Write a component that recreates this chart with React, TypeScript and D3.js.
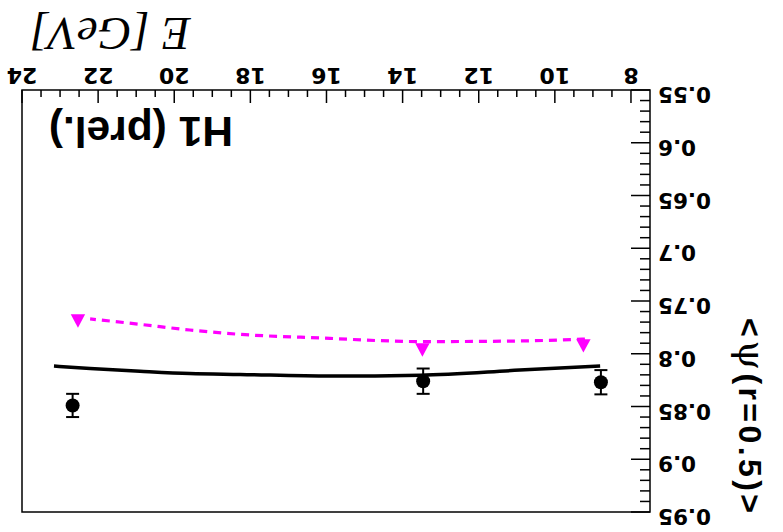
import React from "react";
import * as d3 from "d3";

// ---- data ----
const E_CIRCLE = [22.67, 13.46, 8.79];
const PSI_CIRCLE = [0.849, 0.826, 0.827];
const ERR_CIRCLE = [0.011, 0.012, 0.0115];

const E_TRI = [22.53, 13.48, 9.25];
const PSI_TRI = [0.769, 0.7965, 0.7925];

const E_SOLID = [8.81, 10.92, 13.54, 15.91, 18.27, 19.59, 20.9, 22.21, 23.16];
const PSI_SOLID = [0.8115, 0.8155, 0.8203, 0.8212, 0.8196, 0.8187, 0.8165, 0.8139, 0.8117];

const E_DASH = [9.21, 10.92, 13.54, 14.59, 15.91, 18.27, 19.59, 20.9, 22.21];
const PSI_DASH = [0.786, 0.7879, 0.7885, 0.7876, 0.7854, 0.7816, 0.7775, 0.7721, 0.767];

const X_TICKS = [8, 10, 12, 14, 16, 18, 20, 22, 24];
const Y_TICKS = [0.55, 0.6, 0.65, 0.7, 0.75, 0.8, 0.85, 0.9, 0.95];
const Y_TICK_LABELS = ["0.55", "0.6", "0.65", "0.7", "0.75", "0.8", "0.85", "0.9", "0.95"];

const X_DOMAIN = [7.5, 24];
const Y_DOMAIN = [0.55, 0.95];

export default function App() {
  const W = 783;
  const H = 532;
  const left = 133, right = 761, top = 20, bottom = 442;

  const x = d3.scaleLinear().domain(X_DOMAIN).range([left, right]);
  const y = d3.scaleLinear().domain(Y_DOMAIN).range([bottom, top]);

  const xMinor = d3.range(8, 24.001, 0.5).filter((v) => Math.abs(v / 2 - Math.round(v / 2)) > 1e-6);
  const yMinor = d3.range(0.55, 0.9501, 0.01).filter((v) => Math.abs(v / 0.05 - Math.round(v / 0.05)) > 1e-4);

  const solidPts: [number, number][] = E_SOLID.map((e, i) => [x(e), y(PSI_SOLID[i])]);
  const dashPts: [number, number][] = E_DASH.map((e, i) => [x(e), y(PSI_DASH[i])]);
  const lineGen = d3.line().curve(d3.curveMonotoneX);

  const tickFont = "'DejaVu Sans', sans-serif";

  return (
    <svg
      width={W}
      height={H}
      style={{ position: "absolute", left: 0, top: 0, background: "#fff" }}
    >
      <rect x={0} y={0} width={W} height={H} fill="#fff" />
      <g transform={`rotate(180 ${W / 2} ${H / 2})`}>
        {/* frame */}
        <rect x={left} y={top} width={right - left} height={bottom - top} fill="none" stroke="#000" strokeWidth={1.5} />

        {/* x ticks */}
        {X_TICKS.map((t) => (
          <line key={"xM" + t} x1={x(t)} x2={x(t)} y1={bottom} y2={bottom - 13} stroke="#000" strokeWidth={1.5} />
        ))}
        {xMinor.map((t) => (
          <line key={"xm" + t} x1={x(t)} x2={x(t)} y1={bottom} y2={bottom - 7} stroke="#000" strokeWidth={1.5} />
        ))}
        {X_TICKS.map((t) => (
          <text key={"xl" + t} x={x(t)} y={464} textAnchor="middle" fontFamily={tickFont} fontWeight="bold" fontSize={22}>
            {t}
          </text>
        ))}

        {/* y ticks */}
        {Y_TICKS.map((t) => (
          <line key={"yM" + t} x1={left} x2={left + 19} y1={y(t)} y2={y(t)} stroke="#000" strokeWidth={1.5} />
        ))}
        {yMinor.map((t) => (
          <line key={"ym" + t} x1={left} x2={left + 10} y1={y(t)} y2={y(t)} stroke="#000" strokeWidth={1.5} />
        ))}
        {Y_TICKS.map((t, i) => (
          <text key={"yl" + t} x={125} y={y(t) + 3} textAnchor="end" fontFamily={tickFont} fontWeight="bold" fontSize={21.5}>
            {Y_TICK_LABELS[i]}
          </text>
        ))}

        {/* axis titles */}
        <text x={753} y={514} textAnchor="end" fontFamily="'Liberation Serif', serif" fontStyle="italic" fontSize={47}>
          E [GeV]
        </text>
        <text
          transform={`translate(44,19) rotate(-90)`}
          textAnchor="end"
          fontFamily="'Liberation Sans', Arial, sans-serif"
          fontWeight="bold"
          fontSize={32}
          textLength={195}
          lengthAdjust="spacing"
        >
          {"<"}
          <tspan fontFamily="'DejaVu Serif', serif" fontWeight="normal" fontSize={38}>ψ</tspan>
          {"(r=0.5)>"}
        </text>

        <text x={550} y={415} fontFamily="'Liberation Sans', Arial, sans-serif" fontWeight="bold" fontSize={42.5}>
          H1 (prel.)
        </text>

        {/* curves */}
        <path d={lineGen(solidPts) || ""} fill="none" stroke="#000" strokeWidth={3.5} />
        <path d={lineGen(dashPts) || ""} fill="none" stroke="#ff00ff" strokeWidth={3.2} strokeDasharray="8,6" />

        {/* triangles */}
        {E_TRI.map((e, i) => {
          const cx = x(e), cy = y(PSI_TRI[i]);
          return (
            <path key={"t" + i} d={`M${cx},${cy - 6.7}L${cx + 7.2},${cy + 6.7}L${cx - 7.2},${cy + 6.7}Z`} fill="#ff00ff" />
          );
        })}

        {/* data points with error bars */}
        {E_CIRCLE.map((e, i) => {
          const cx = x(e), cy = y(PSI_CIRCLE[i]);
          const y1 = y(PSI_CIRCLE[i] - ERR_CIRCLE[i]);
          const y2 = y(PSI_CIRCLE[i] + ERR_CIRCLE[i]);
          return (
            <g key={"c" + i}>
              <line x1={cx} x2={cx} y1={y1} y2={y2} stroke="#000" strokeWidth={2} />
              <line x1={cx - 6.5} x2={cx + 6.5} y1={y1} y2={y1} stroke="#000" strokeWidth={2} />
              <line x1={cx - 6.5} x2={cx + 6.5} y1={y2} y2={y2} stroke="#000" strokeWidth={2} />
              <circle cx={cx} cy={cy} r={7} fill="#000" />
            </g>
          );
        })}
      </g>
    </svg>
  );
}
